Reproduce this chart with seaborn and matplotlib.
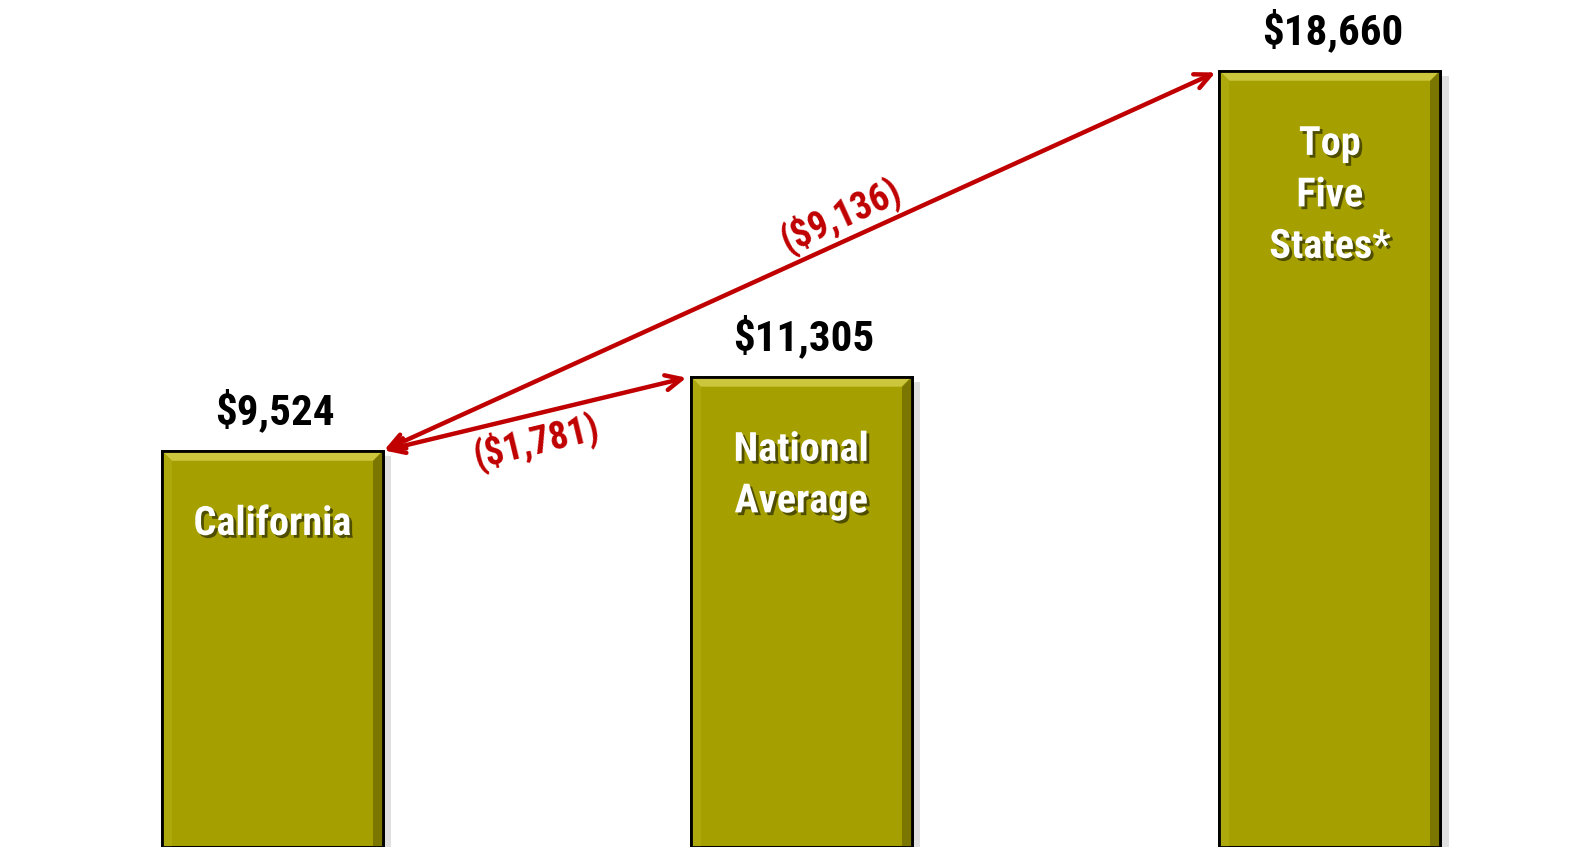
import math
import matplotlib
matplotlib.use("Agg")
import matplotlib.pyplot as plt
import matplotlib.patheffects as pe
from matplotlib.patches import Polygon, Rectangle
import seaborn as sns
import pandas as pd

# Data
categories = ["California", "National\nAverage", "Top\nFive\nStates*"]
values = [9524, 11305, 18660]
value_labels = ["$9,524", "$11,305", "$18,660"]
gap_labels = ["($1,781)", "($9,136)"]

bar_color = "#A5A000"
red = "#C00000"

sns.set_theme(style="white")
plt.rcParams["font.family"] = ["Roboto Condensed", "DejaVu Sans"]

df = pd.DataFrame({"cat": categories, "val": values})

fig = plt.figure(figsize=(15.91, 8.47), dpi=100)
ax = fig.add_axes([0, 0, 1, 1])

bar_w = 0.418
sns.barplot(data=df, x="cat", y="val", color=bar_color, saturation=1,
            width=bar_w, edgecolor="black", linewidth=2, ax=ax, zorder=2)

xmin, xmax = -0.515, 2.494
ymax = 20360
ax.set_xlim(xmin, xmax)
ax.set_ylim(0, ymax)
ax.axis("off")

# size of one pixel in data units (for bevel and label offsets)
px_x = (xmax - xmin) / 1591
px_y = ymax / 847

# bevel look + soft drop shadow on each bar
for p in ax.patches[:3]:
    x0, w, h = p.get_x(), p.get_width(), p.get_height()
    x1 = x0 + w
    bx, by = 10 * px_x, 10 * px_y
    p.set_path_effects([pe.SimplePatchShadow(offset=(6, -4), shadow_rgbFace="#999999", alpha=0.3),
                        pe.Normal()])
    top = Polygon([(x0, h), (x1, h), (x1 - bx, h - by), (x0 + bx, h - by)],
                  closed=True, facecolor="#CBC63C", edgecolor="none", zorder=3)
    right = Polygon([(x1, h), (x1, 0), (x1 - bx, 0), (x1 - bx, h - by)],
                    closed=True, facecolor="#7A7600", edgecolor="none", zorder=3)
    left = Polygon([(x0, h), (x0, 0), (x0 + bx, 0), (x0 + bx, h - by)],
                   closed=True, facecolor="#ADA80C", edgecolor="none", zorder=3)
    for poly in (top, right, left):
        ax.add_patch(poly)
    ax.add_patch(Rectangle((x0, 0), w, h, facecolor="none", edgecolor="black",
                           linewidth=2, zorder=4))

# value labels above bars
for i, (v, lab) in enumerate(zip(values, value_labels)):
    ax.annotate(lab, xy=(i, v), xytext=(2, 19), textcoords="offset points",
                ha="center", va="baseline", fontsize=31, fontweight="bold",
                color="black", zorder=5)

# category labels inside bars (white with a dark shadow)
for i, (v, cat) in enumerate(zip(values, categories)):
    t = ax.annotate(cat, xy=(i, v), xytext=(0, -39), textcoords="offset points",
                    ha="center", va="top", fontsize=29, fontweight="bold",
                    color="white", linespacing=1.45, zorder=5)
    t.set_path_effects([pe.SimplePatchShadow(offset=(2, -2), shadow_rgbFace="#2a2a00", alpha=0.7),
                        pe.Normal()])

# gap arrows from California to the other two bars
start = (0 + bar_w / 2, values[0])
ends = [(k - bar_w / 2, values[k]) for k in (1, 2)]
for end in ends:
    ax.annotate("", xy=end, xytext=start,
                arrowprops=dict(arrowstyle="<->,head_length=0.95,head_width=0.45",
                                color=red, lw=3.2, shrinkA=1, shrinkB=3),
                zorder=6)

# arrow labels, rotated along the arrows
def label_on_arrow(a, b, frac, text, offset_px, va):
    dx = (b[0] - a[0]) / px_x
    dy = (b[1] - a[1]) / px_y
    theta = math.atan2(dy, dx)
    nx, ny = -math.sin(theta), math.cos(theta)
    pt = (a[0] + frac * (b[0] - a[0]), a[1] + frac * (b[1] - a[1]))
    ax.annotate(text, xy=pt, xytext=(nx * offset_px * 0.72, ny * offset_px * 0.72),
                textcoords="offset points", rotation=math.degrees(theta),
                rotation_mode="anchor", ha="center", va=va,
                fontsize=27, fontweight="bold", color=red, zorder=6)

label_on_arrow(start, ends[0], 0.48, gap_labels[0], -6, "top")
label_on_arrow(start, ends[1], 0.56, gap_labels[1], 5, "bottom")

fig.savefig("out.png", dpi=100, facecolor="white")
